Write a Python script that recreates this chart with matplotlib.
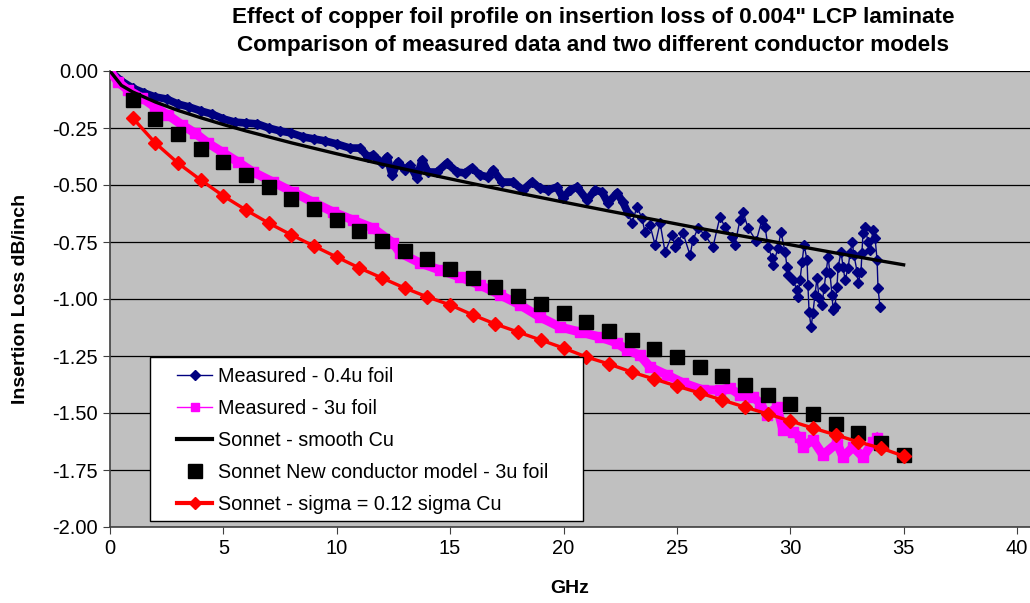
import matplotlib
matplotlib.use("Agg")
import matplotlib.pyplot as plt
from matplotlib.lines import Line2D
from matplotlib.patches import Rectangle

plt.rcParams['font.family'] = ['Liberation Sans', 'DejaVu Sans']

# Measured - 0.4u foil (navy diamonds)
meas04_ghz = [0, 0.5, 1, 1.5, 2, 2.5, 3, 3.5, 4, 4.5, 5, 5.5, 6, 6.5, 7, 7.5, 8, 8.5, 9, 9.5,
              10, 10.58, 11.03, 11.38, 11.6, 12.0, 12.22, 12.44, 12.7, 13.0, 13.23, 13.54, 13.76,
              14.02, 14.42, 14.86, 15.3, 15.66, 15.96, 16.32, 16.67, 16.89, 17.29, 17.77, 18.21,
              18.61, 18.96, 19.32, 19.71, 19.98, 20.29, 20.6, 21.04, 21.39, 21.7, 21.96, 22.36,
              22.62, 22.84, 23.02, 23.24, 23.46, 23.59, 23.81, 24.04, 24.26, 24.48, 24.79, 24.92,
              25.05, 25.27, 25.58, 25.71, 25.93, 26.24, 26.59, 26.9, 27.12, 27.43, 27.56, 27.78,
              27.92, 28.14, 28.5, 28.75, 28.89, 29.02, 29.2, 29.24, 29.46, 29.59, 29.77, 29.86,
              29.9, 30.12, 30.3, 30.34, 30.43, 30.52, 30.61, 30.74, 30.78, 30.83, 30.92, 31.0,
              31.09, 31.18, 31.27, 31.4, 31.49, 31.58, 31.67, 31.75, 31.84, 31.89, 31.97, 32.06,
              32.11, 32.24, 32.33, 32.42, 32.55, 32.64, 32.73, 32.81, 32.95, 32.99, 33.12, 33.16,
              33.21, 33.3, 33.43, 33.52, 33.65, 33.74, 33.83, 33.87, 33.96]
meas04_db = [0, -0.044, -0.075, -0.096, -0.114, -0.123, -0.145, -0.158, -0.175, -0.189, -0.21,
             -0.224, -0.228, -0.232, -0.25, -0.263, -0.272, -0.289, -0.298, -0.307,
             -0.32, -0.338, -0.338, -0.377, -0.368, -0.404, -0.377, -0.456, -0.399, -0.434,
             -0.412, -0.469, -0.39, -0.443, -0.443, -0.404, -0.443, -0.447, -0.425, -0.456,
             -0.465, -0.434, -0.487, -0.487, -0.522, -0.487, -0.513, -0.522, -0.509, -0.557,
             -0.522, -0.509, -0.566, -0.522, -0.531, -0.579, -0.535, -0.575, -0.623, -0.667,
             -0.596, -0.645, -0.706, -0.675, -0.763, -0.667, -0.794, -0.719, -0.772, -0.75,
             -0.711, -0.807, -0.741, -0.689, -0.719, -0.772, -0.64, -0.684, -0.728, -0.763,
             -0.654, -0.618, -0.689, -0.745, -0.654, -0.684, -0.772, -0.82, -0.851, -0.776,
             -0.706, -0.794, -0.86, -0.895, -0.917, -0.961, -0.991, -0.917, -0.838, -0.763,
             -0.829, -0.939, -1.057, -1.123, -1.061, -0.982, -0.908, -0.996, -1.026, -0.952,
             -0.882, -0.816, -0.886, -0.982, -1.048, -1.035, -0.947, -0.86, -0.794, -0.86,
             -0.917, -0.864, -0.798, -0.75, -0.807, -0.882, -0.93, -0.882, -0.798, -0.711,
             -0.684, -0.75, -0.785, -0.697, -0.732, -0.829, -0.952, -1.035]

# Measured - 3u foil (magenta squares)
meas3_ghz = [0, 0.35, 0.79, 1.41, 1.98, 2.56, 3.18, 3.75, 4.32, 4.94, 5.64, 6.31, 7.19, 8.07,
             8.95, 9.83, 10.72, 11.6, 12.48, 12.79, 13.67, 14.55, 15.44, 16.32, 17.2, 18.08,
             18.96, 19.85, 20.73, 21.61, 22.36, 22.8, 23.37, 23.81, 24.56, 25.27, 26.15, 26.9,
             27.34, 27.78, 28.36, 28.67, 28.97, 29.42, 29.68, 30.12, 30.43, 30.56, 31.0, 31.44,
             32.06, 32.33, 32.77, 33.21, 33.65, 33.83]
meas3_db = [0, -0.048, -0.083, -0.118, -0.158, -0.193, -0.237, -0.272, -0.316, -0.355, -0.399,
            -0.443, -0.487, -0.531, -0.575, -0.618, -0.654, -0.689, -0.754, -0.798, -0.842,
            -0.873, -0.904, -0.939, -0.982, -1.026, -1.079, -1.123, -1.145, -1.167, -1.193,
            -1.224, -1.246, -1.298, -1.333, -1.368, -1.399, -1.399, -1.39, -1.421, -1.43,
            -1.456, -1.509, -1.474, -1.575, -1.583, -1.605, -1.649, -1.618, -1.684, -1.632,
            -1.693, -1.649, -1.693, -1.627, -1.61]

# Sonnet - smooth Cu (black line)
smooth_ghz = [0, 0.5, 1, 2, 3, 4, 5, 6, 7, 8, 9, 10, 12, 14, 16, 18, 20, 22, 24, 26, 28, 30, 32, 34, 35]
smooth_db = [0, -0.063, -0.092, -0.136, -0.173, -0.205, -0.235, -0.263, -0.289, -0.315, -0.339,
             -0.363, -0.409, -0.452, -0.494, -0.535, -0.575, -0.614, -0.652, -0.690, -0.726,
             -0.762, -0.798, -0.833, -0.850]

# Sonnet model points at 1..35 GHz
model_ghz = list(range(1, 36))
newcond_db = [-0.127, -0.211, -0.276, -0.342, -0.399, -0.456, -0.509, -0.561, -0.605, -0.654,
              -0.702, -0.746, -0.789, -0.825, -0.868, -0.908, -0.947, -0.987, -1.022, -1.061,
              -1.101, -1.140, -1.180, -1.219, -1.254, -1.298, -1.338, -1.377, -1.421, -1.461,
              -1.504, -1.548, -1.588, -1.632, -1.684]
sigma_db = [-0.206, -0.316, -0.404, -0.478, -0.548, -0.610, -0.667, -0.719, -0.768, -0.816,
            -0.864, -0.908, -0.952, -0.991, -1.026, -1.070, -1.110, -1.145, -1.180, -1.215,
            -1.254, -1.285, -1.320, -1.351, -1.382, -1.412, -1.443, -1.474, -1.504, -1.535,
            -1.566, -1.596, -1.627, -1.654, -1.689]

yticks = [0, -0.25, -0.5, -0.75, -1.0, -1.25, -1.5, -1.75, -2.0]
xticks = [0, 5, 10, 15, 20, 25, 30, 35, 40]

fig = plt.figure(figsize=(10.30, 6.03), dpi=100)
ax = fig.add_axes([110 / 1030, 76 / 603, 920 / 1030, 456 / 603])
ax.set_facecolor('#c0c0c0')

for yv in yticks:
    ax.axhline(yv, color='black', lw=0.9, zorder=1)

# dense measured points merge into a band below ~23 GHz
n_band = 59
ax.plot(meas04_ghz[:n_band], meas04_db[:n_band], color='#000080', lw=5.5, zorder=3,
        solid_capstyle='round')
ax.plot(meas04_ghz, meas04_db, color='#000080', lw=1, marker='D', ms=5.5, zorder=3)
ax.plot(meas3_ghz, meas3_db, color='#ff00ff', lw=6.5, marker='s', ms=6.5, zorder=3)
ax.plot(smooth_ghz, smooth_db, color='black', lw=2.4, zorder=4)
ax.plot(model_ghz, newcond_db, linestyle='none', color='black', marker='s', ms=9.5, zorder=5)
ax.plot(model_ghz, sigma_db, color='#ff0000', lw=2.4, marker='D', ms=7.5, zorder=6)

ax.set_xlim(0, 920 / 22.675)
ax.set_ylim(-2.0, 0)
ax.set_xticks(xticks)
ax.set_yticks(yticks)
ax.set_yticklabels([f"{v:.2f}" for v in yticks])
ax.tick_params(labelsize=14.5, direction='out', length=5, color='#404040')
for side in ['top', 'right']:
    ax.spines[side].set_visible(False)
for side in ['left', 'bottom']:
    ax.spines[side].set_color('#404040')
    ax.spines[side].set_linewidth(1.2)

ax.set_xlabel('GHz', fontsize=14, fontweight='bold', labelpad=16)
ax.set_ylabel('Insertion Loss dB/inch', fontsize=14, fontweight='bold', labelpad=17)

fig.text(593 / 1030, 1 - 18 / 603, 'Effect of copper foil profile on insertion loss of 0.004" LCP laminate',
         ha='center', va='center', fontsize=16.2, fontweight='bold')
fig.text(593 / 1030, 1 - 46 / 603, 'Comparison of measured data and two different conductor models',
         ha='center', va='center', fontsize=16.2, fontweight='bold')

# legend box
ax.add_patch(Rectangle((40 / 920, 6 / 456), 433 / 920, 164 / 456, transform=ax.transAxes,
                       facecolor='white', edgecolor='black', lw=1, zorder=10))
handles = [
    Line2D([], [], color='#000080', lw=1, marker='D', ms=5),
    Line2D([], [], color='#ff00ff', lw=1, marker='s', ms=6),
    Line2D([], [], color='black', lw=3),
    Line2D([], [], linestyle='none', color='black', marker='s', ms=10),
    Line2D([], [], color='#ff0000', lw=3, marker='D', ms=6),
]
labels = ['Measured - 0.4u foil', 'Measured - 3u foil', 'Sonnet - smooth Cu',
          'Sonnet New conductor model - 3u foil', 'Sonnet - sigma = 0.12 sigma Cu']
leg = ax.legend(handles, labels, loc='upper left', bbox_to_anchor=(57 / 920, 170 / 456),
                frameon=False, fontsize=14.2, borderpad=0, handlelength=1.8,
                handletextpad=0.27, labelspacing=0.66)
leg.set_zorder(11)

fig.savefig('out.png', dpi=100)
